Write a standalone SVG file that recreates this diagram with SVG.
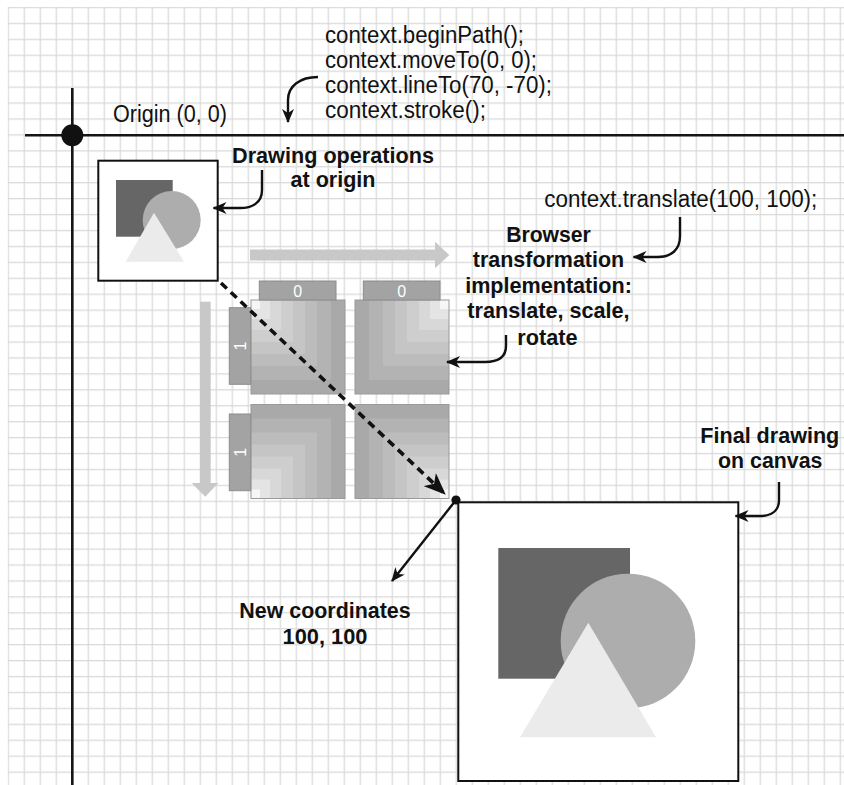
<svg xmlns="http://www.w3.org/2000/svg" width="844" height="785" viewBox="0 0 844 785">
<style>
.t{font-family:"Liberation Sans",Arial,sans-serif;font-size:23px;fill:#111}
.b{font-weight:bold;font-size:22px}
.m{text-anchor:middle}
.ax{stroke:#151515;stroke-width:2.6;fill:none}
.ar{stroke:#111;stroke-width:2.4;fill:none;marker-end:url(#ah)}
.tab{fill:#a3a3a3;stroke:#8c8c8c;stroke-width:1}
.tabt{font-family:"Liberation Sans",Arial,sans-serif;font-size:16px;fill:#fff;text-anchor:middle}
.gr{fill:#c8c8c8}
</style>
<defs>
<pattern id="grid" patternUnits="userSpaceOnUse" x="7.65" y="6.85" width="16" height="15.93">
<rect x="0" y="0" width="1.3" height="15.93" fill="#dadada"/>
<rect x="0" y="0" width="16" height="1.3" fill="#dadada"/>
</pattern>
<marker id="ah" viewBox="0 0 14 12" refX="13" refY="6" markerWidth="14" markerHeight="12" markerUnits="userSpaceOnUse" orient="auto">
<path d="M0,0 L14,6 L0,12 L4,6 Z" fill="#111"/>
</marker>
<marker id="ahb" viewBox="0 0 22 18" refX="21" refY="9" markerWidth="22" markerHeight="18" markerUnits="userSpaceOnUse" orient="auto">
<path d="M0,0 L22,9 L0,18 L6,9 Z" fill="#111"/>
</marker>
<g id="tile">
<rect x="0" y="0" width="94" height="94" fill="#a9a9a9"/>
<rect x="0" y="0" width="80" height="80" fill="#b3b3b3"/>
<rect x="0" y="0" width="66" height="66" fill="#bcbcbc"/>
<rect x="0" y="0" width="54" height="54" fill="#c5c5c5"/>
<rect x="0" y="0" width="42" height="42" fill="#cecece"/>
<rect x="0" y="0" width="30" height="30" fill="#d8d8d8"/>
<rect x="0" y="0" width="19" height="19" fill="#e4e4e4"/>
<rect x="0" y="0" width="9" height="9" fill="#f6f6f6"/>
<rect x="0" y="0" width="94" height="94" fill="none" stroke="#999" stroke-width="1"/>
</g>
</defs>

<rect x="0" y="0" width="844" height="785" fill="#fff"/>
<rect x="7.65" y="6.85" width="837" height="779" fill="url(#grid)"/>

<g id="axes">
<line class="ax" x1="25" y1="135.2" x2="844" y2="135.2"/>
<line class="ax" x1="72.3" y1="88" x2="72.3" y2="785"/>
<circle cx="72.3" cy="135.2" r="11" fill="#111"/>
</g>

<g id="origin-label">
<text class="t" x="113" y="121.5" textLength="114" lengthAdjust="spacingAndGlyphs">Origin (0, 0)</text>
</g>

<g id="code">
<text class="t" x="325" y="42.7" textLength="199" lengthAdjust="spacingAndGlyphs">context.beginPath();</text>
<text class="t" x="325" y="67.7" textLength="212" lengthAdjust="spacingAndGlyphs">context.moveTo(0, 0);</text>
<text class="t" x="325" y="92.7" textLength="227" lengthAdjust="spacingAndGlyphs">context.lineTo(70, -70);</text>
<text class="t" x="325" y="118" textLength="161" lengthAdjust="spacingAndGlyphs">context.stroke();</text>
</g>

<g id="origin-drawing">
<rect x="98.3" y="160.7" width="119.4" height="120" fill="#fff" stroke="#111" stroke-width="2"/>
<rect x="116" y="180" width="56.7" height="56.7" fill="#666"/>
<circle cx="171.7" cy="220" r="29" fill="#adadad"/>
<polygon points="154,212.7 125.7,261.7 184,261.7" fill="#ebebeb"/>
</g>

<g id="origin-label2">
<text class="t b m" x="333" y="163" textLength="202" lengthAdjust="spacingAndGlyphs">Drawing operations</text>
<text class="t b m" x="333" y="186.5" textLength="85" lengthAdjust="spacingAndGlyphs">at origin</text>
</g>

<g id="gray-arrows">
<rect class="gr" x="250" y="249.5" width="186" height="11"/>
<polygon class="gr" points="435,241.7 449.3,255 435,268.3"/>
<rect class="gr" x="200" y="301.7" width="10.7" height="182"/>
<polygon class="gr" points="191.7,483 218.3,483 205.3,496.7"/>
</g>

<g id="matrix">
<use href="#tile" transform="translate(251,300)"/>
<use href="#tile" transform="translate(449,300) scale(-1,1)"/>
<use href="#tile" transform="translate(251,498.5) scale(1,-1)"/>
<use href="#tile" transform="translate(449,498.5) scale(-1,-1)"/>
<rect class="tab" x="259.3" y="281" width="76.7" height="19"/>
<text class="tabt" x="297.7" y="297.3">0</text>
<rect class="tab" x="363.3" y="281" width="76.7" height="19"/>
<text class="tabt" x="401.7" y="297.3">0</text>
<rect class="tab" x="229.3" y="307.7" width="21.4" height="76.6"/>
<text class="tabt" transform="translate(245.8,346) rotate(-90)" x="0" y="0">1</text>
<rect class="tab" x="229.3" y="414" width="21.4" height="76.7"/>
<text class="tabt" transform="translate(245.8,452.3) rotate(-90)" x="0" y="0">1</text>
</g>

<g id="translate-label">
<text class="t" x="544.3" y="206.7" textLength="273" lengthAdjust="spacingAndGlyphs">context.translate(100, 100);</text>
</g>

<g id="browser-label">
<text class="t b m" x="548.5" y="241.7" textLength="84.7" lengthAdjust="spacingAndGlyphs">Browser</text>
<text class="t b m" x="548.5" y="266.7" textLength="151.3" lengthAdjust="spacingAndGlyphs">transformation</text>
<text class="t b m" x="548.5" y="292.7" textLength="166.7" lengthAdjust="spacingAndGlyphs">implementation:</text>
<text class="t b m" x="548.5" y="318.3" textLength="162.3" lengthAdjust="spacingAndGlyphs">translate, scale,</text>
<text class="t b m" x="547.5" y="345" textLength="60.3" lengthAdjust="spacingAndGlyphs">rotate</text>
</g>

<g id="final-drawing">
<rect x="458.3" y="502.3" width="280" height="278.7" fill="#fff" stroke="#111" stroke-width="2"/>
<rect x="498.3" y="548" width="131.7" height="130.7" fill="#666"/>
<circle cx="628" cy="641" r="67.3" fill="#adadad"/>
<polygon points="588.3,622.7 520,737.3 656,737.3" fill="#ebebeb"/>
</g>

<g id="final-label">
<text class="t b m" x="769.8" y="443.3" textLength="139" lengthAdjust="spacingAndGlyphs">Final drawing</text>
<text class="t b m" x="770.2" y="468.3" textLength="104.4" lengthAdjust="spacingAndGlyphs">on canvas</text>
</g>

<g id="new-coords-label">
<text class="t b m" x="325" y="618.3" textLength="171.4" lengthAdjust="spacingAndGlyphs">New coordinates</text>
<text class="t b m" x="325" y="644" textLength="85" lengthAdjust="spacingAndGlyphs">100, 100</text>
</g>

<g id="connectors">
<path class="ar" d="M318,77 C300,77 288,86 288,100 L288,122"/>
<path class="ar" d="M262,170 L262,190 C262,203 252,208 240,208 L213.5,208"/>
<path class="ar" d="M680,217 L680,236 C680,250 671,257 658,257 L633.5,257"/>
<path class="ar" d="M506,335 L506,346 C506,358 498,362 485,362 L447,362"/>
<path class="ar" d="M779,482 L779,500 C779,511 771,516 760,516 L735.5,516"/>
<line x1="221" y1="283" x2="445" y2="494" stroke="#111" stroke-width="3.6" stroke-dasharray="8 5.5" marker-end="url(#ahb)"/>
<line class="ar" x1="456" y1="500" x2="392" y2="581"/>
<circle cx="456" cy="500" r="4.6" fill="#111"/>
</g>
</svg>
